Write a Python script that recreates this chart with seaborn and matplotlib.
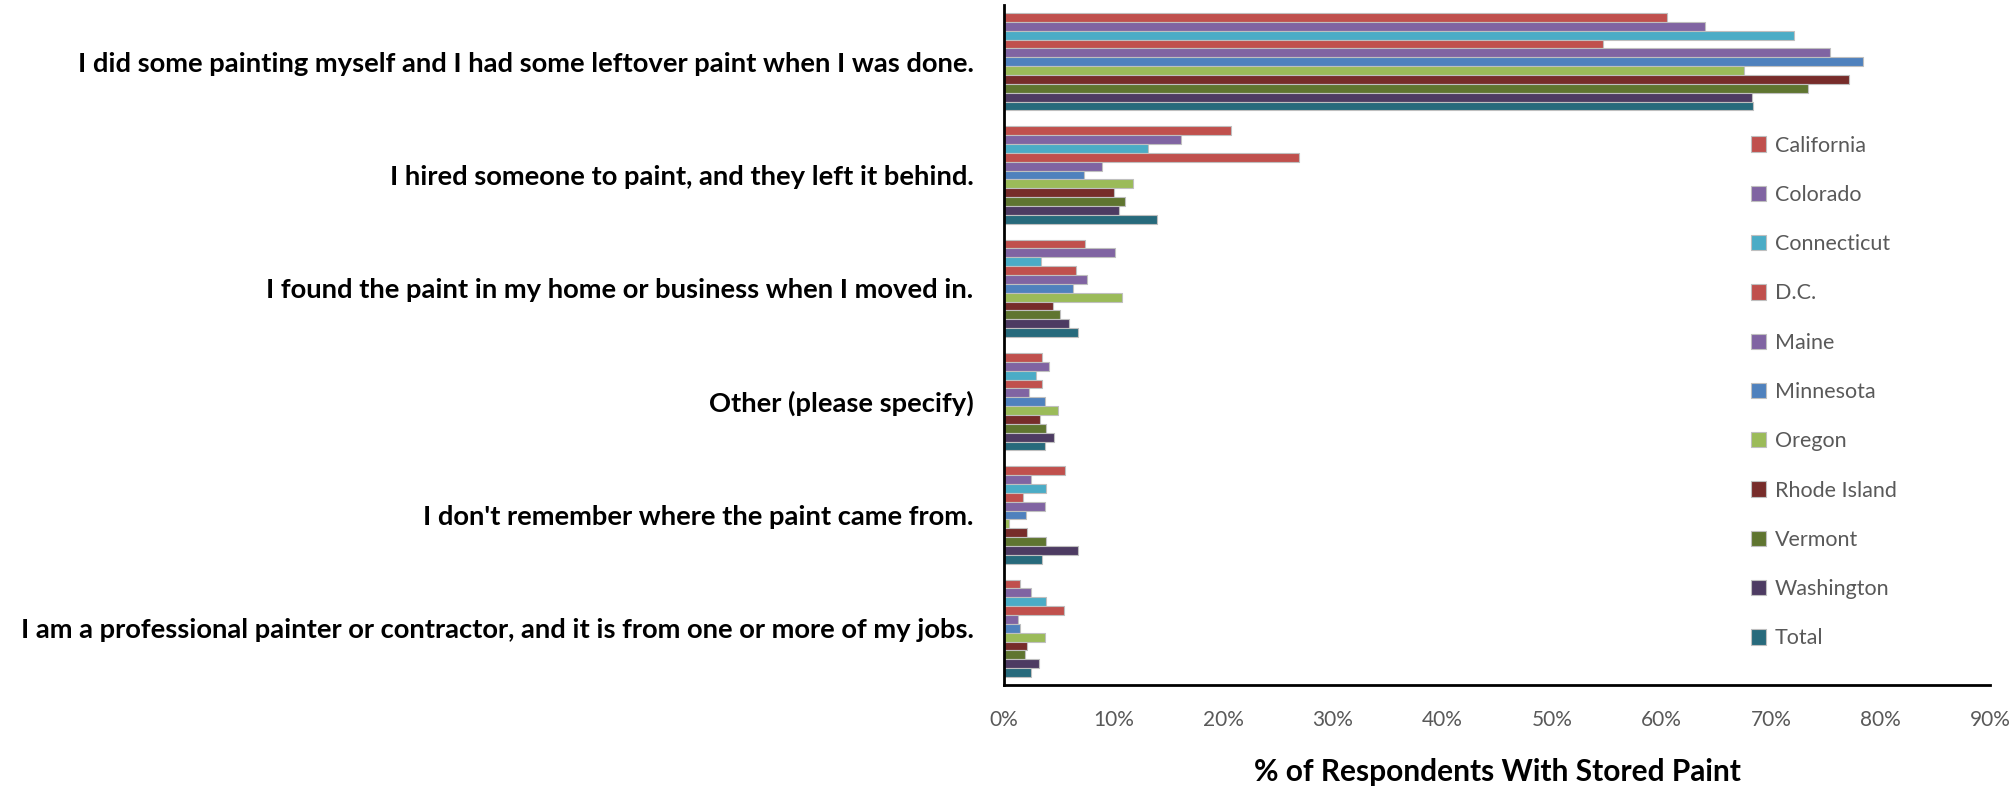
import matplotlib
matplotlib.use("Agg")
import matplotlib.pyplot as plt
import seaborn as sns
import pandas as pd
from matplotlib.ticker import FuncFormatter

# Where the stored paint came from, by state (% of respondents)
categories = [
    "I did some painting myself and I had some leftover paint when I was done.",
    "I hired someone to paint, and they left it behind.",
    "I found the paint in my home or business when I moved in.",
    "Other (please specify)",
    "I don't remember where the paint came from.",
    "I am a professional painter or contractor, and it is from one or more of my jobs.",
]
states = ["California", "Colorado", "Connecticut", "D.C.", "Maine", "Minnesota",
          "Oregon", "Rhode Island", "Vermont", "Washington", "Total"]

california = [60.5, 20.7, 7.4, 3.5, 5.6, 1.5]
colorado = [64.0, 16.2, 10.1, 4.1, 2.5, 2.5]
connecticut = [72.1, 13.1, 3.4, 2.9, 3.8, 3.8]
dc = [54.7, 26.9, 6.6, 3.5, 1.7, 5.5]
maine = [75.4, 8.9, 7.6, 2.3, 3.7, 1.3]
minnesota = [78.4, 7.3, 6.3, 3.7, 2.0, 1.5]
oregon = [67.5, 11.8, 10.8, 4.9, 0.5, 3.7]
rhode_island = [77.1, 10.0, 4.5, 3.3, 2.1, 2.1]
vermont = [73.4, 11.0, 5.1, 3.8, 3.8, 1.9]
washington = [68.3, 10.5, 5.9, 4.6, 6.8, 3.2]
total = [68.4, 14.0, 6.8, 3.7, 3.5, 2.5]

series = [california, colorado, connecticut, dc, maine, minnesota,
          oregon, rhode_island, vermont, washington, total]

colors = ["#C0504D", "#8064A2", "#4BACC6", "#C0504D", "#8064A2", "#4F81BD",
          "#9BBB59", "#772C2A", "#5F7530", "#4D3B62", "#276A7C"]

rows = []
for state, vals in zip(states, series):
    for cat, v in zip(categories, vals):
        rows.append({"category": cat, "state": state, "value": v})
df = pd.DataFrame(rows)

sns.set_theme(style="white")
plt.rcParams["font.family"] = ["Lato", "DejaVu Sans"]

fig = plt.figure(figsize=(20.13, 7.87), dpi=100)
ax = fig.add_axes([1004 / 2013, 1 - 685 / 787, (1990 - 1004) / 2013, (685 - 5) / 787])

sns.barplot(data=df, y="category", x="value", hue="state", order=categories,
            hue_order=states, palette=colors, orient="h", width=0.86,
            edgecolor="#BFBFBF", linewidth=0.8, saturation=1, ax=ax)

ax.set_xlim(0, 90)
ax.set_xticks(range(0, 91, 10))
ax.xaxis.set_major_formatter(FuncFormatter(lambda v, p: f"{v:.0f}%"))
ax.tick_params(axis="x", length=0, labelsize=15, labelcolor="#595959", pad=18)
ax.tick_params(axis="y", length=0, labelsize=19.7, pad=22)
for lab in ax.get_yticklabels():
    lab.set_fontweight("bold")
    lab.set_color("black")

ax.set_ylabel("")
ax.set_xlabel("% of Respondents With Stored Paint", fontsize=21.5, fontweight="bold",
              color="black", labelpad=20)

for side in ["top", "right"]:
    ax.spines[side].set_visible(False)
for side in ["left", "bottom"]:
    ax.spines[side].set_color("black")
    ax.spines[side].set_linewidth(2)

handles, labels = ax.get_legend_handles_labels()
ax.legend(handles, labels, loc="upper left", bbox_to_anchor=(1742 / 2013, 1 - 127 / 787),
          bbox_transform=fig.transFigure, frameon=False, fontsize=15.5,
          labelcolor="#595959", handlelength=0.72, handleheight=0.72,
          handletextpad=0.4, labelspacing=1.36, borderaxespad=0)

fig.savefig("out.png", dpi=100)
